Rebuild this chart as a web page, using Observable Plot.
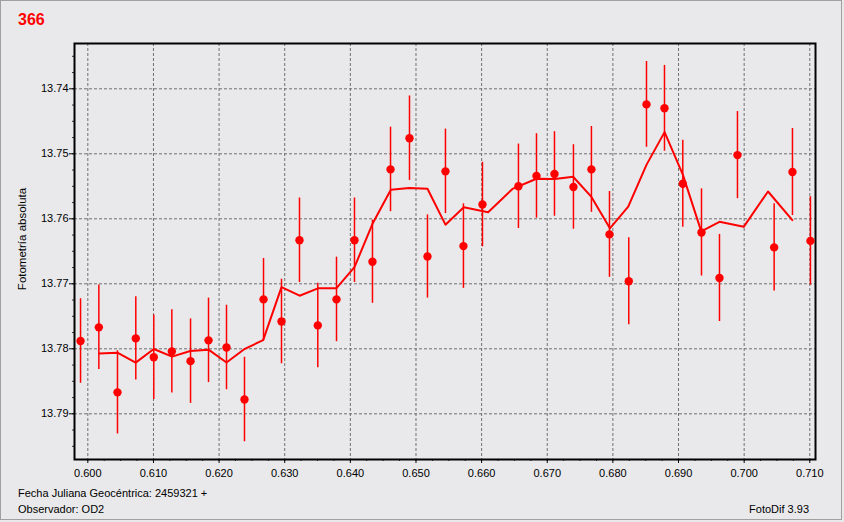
<!DOCTYPE html>
<html>
<head>
<meta charset="utf-8">
<script src="https://cdn.jsdelivr.net/npm/d3@7"></script>
<script src="https://cdn.jsdelivr.net/npm/@observablehq/plot@0.6"></script>
<style>
  html, body { margin: 0; padding: 0; background: #e9e9eb; }
  #page { position: relative; width: 844px; height: 522px; background: #e9e9eb; overflow: hidden; }
  #chart { position: absolute; left: 0; top: 0; }
  #overlay { position: absolute; left: 0; top: 0; pointer-events: none; }
  #border { position: absolute; left: 0; top: 0; width: 842px; height: 520px; box-sizing: border-box; border: 1px solid #a0a0a0; pointer-events: none; }
</style>
</head>
<body>
<div id="page">
  <div id="chart"></div>
  <svg id="overlay" width="844" height="522" font-family="'Liberation Sans', Arial, sans-serif">
    <text x="18" y="25" font-size="16" font-weight="bold" fill="#ff0000">366</text>
    <text transform="translate(26,239) rotate(-90)" text-anchor="middle" font-size="11.5" fill="#000">Fotometría absoluta</text>
    <text x="18" y="497" font-size="11" fill="#000">Fecha Juliana Geocéntrica: 2459321 +</text>
    <text x="18" y="513" font-size="11" fill="#000">Observador: OD2</text>
    <text x="809" y="513" font-size="11" fill="#000" text-anchor="end">FotoDif 3.93</text>
  </svg>
  <div id="border"></div>
</div>
<script>
// Time (fraction of day after JD 2459321)
const times = [
  0.59889, 0.60168, 0.60452, 0.60731, 0.61005, 0.61280, 0.61565, 0.61839, 0.62113, 0.62387,
  0.62677, 0.62951, 0.63225, 0.63504, 0.63789, 0.64063, 0.64337, 0.64612, 0.64901, 0.65175,
  0.65449, 0.65723, 0.66013, 0.66561, 0.66836, 0.67110, 0.67399, 0.67673, 0.67948, 0.68242,
  0.68512, 0.68786, 0.69065, 0.69350, 0.69624, 0.69898, 0.70457, 0.70736, 0.71010
];
// Absolute magnitude
const mags = [
  13.7788, 13.7767, 13.7867, 13.7784, 13.7813, 13.7804, 13.7819, 13.7787, 13.7798, 13.7878,
  13.7724, 13.7758, 13.7633, 13.7764, 13.7724, 13.7633, 13.7666, 13.7524, 13.7476, 13.7658,
  13.7527, 13.7642, 13.7578, 13.7550, 13.7534, 13.7531, 13.7551, 13.7524, 13.7624, 13.7696,
  13.7424, 13.7430, 13.7546, 13.7621, 13.7691, 13.7502, 13.7644, 13.7528, 13.7634
];
// Error (half length of bar)
const errs = [
  0.0065, 0.0065, 0.0064, 0.0064, 0.0065, 0.0064, 0.0065, 0.0065, 0.0065, 0.0065,
  0.0063, 0.0065, 0.0065, 0.0065, 0.0065, 0.0065, 0.0064, 0.0065, 0.0065, 0.0064,
  0.0065, 0.0065, 0.0065, 0.0065, 0.0065, 0.0065, 0.0065, 0.0066, 0.0066, 0.0067,
  0.0066, 0.0066, 0.0067, 0.0067, 0.0067, 0.0067, 0.0067, 0.0067, 0.0068
];
// Axis ticks
const xTicks = [0.600, 0.610, 0.620, 0.630, 0.640, 0.650, 0.660, 0.670, 0.680, 0.690, 0.700, 0.710];
const yTicks = [13.74, 13.75, 13.76, 13.77, 13.78, 13.79];

const xDomain = [0.59797, 0.71087];
const yDomain = [13.73303, 13.79703];
const xMinor = d3.range(0, 46).map(i => +(0.600 + i * 0.0025).toFixed(4)).filter(v => v <= xDomain[1]);
const yMinor = d3.range(0, 25).map(i => +(13.735 + i * 0.0025).toFixed(4)).filter(v => v <= yDomain[1]);

const data = times.map((t, i) => ({t, mag: mags[i], err: errs[i]}));

const chart = Plot.plot({
  width: 842,
  height: 482,
  marginLeft: 74,
  marginRight: 27,
  marginTop: 43,
  marginBottom: 23,
  style: {background: "transparent", fontFamily: "'Liberation Sans', Arial, sans-serif", fontSize: "11px", color: "#000"},
  x: {domain: xDomain},
  y: {domain: yDomain, reverse: true},
  marks: [
    Plot.gridX(xTicks, {stroke: "#707070", strokeOpacity: 1, strokeDasharray: "3,2"}),
    Plot.gridY(yTicks, {stroke: "#707070", strokeOpacity: 1, strokeDasharray: "3,2"}),
    Plot.axisX(xMinor, {tickSize: 2, tickFormat: () => "", label: null, stroke: "#333"}),
    Plot.axisY(yMinor, {tickSize: 2, tickFormat: () => "", label: null, stroke: "#333"}),
    Plot.axisX(xTicks, {tickSize: 4, tickPadding: 6, tickFormat: d3.format(".3f"), label: null}),
    Plot.axisY(yTicks, {tickSize: 5, tickPadding: 1, tickFormat: d => d.toFixed(2), label: null}),
    Plot.frame({stroke: "#000", strokeWidth: 2}),
    Plot.ruleX(data, {x: "t", y1: d => d.mag - d.err, y2: d => d.mag + d.err, stroke: "#ff0000", strokeWidth: 1.5}),
    Plot.line(data, Plot.map(
      {x: Plot.window({k: 3, strict: true}), y: Plot.window({k: 3, strict: true})},
      {x: "t", y: "mag", stroke: "#ff0000", strokeWidth: 2}
    )),
    Plot.dot(data, {x: "t", y: "mag", r: 4.2, fill: "#ff0000"})
  ]
});
document.getElementById("chart").appendChild(chart);
</script>
</body>
</html>
